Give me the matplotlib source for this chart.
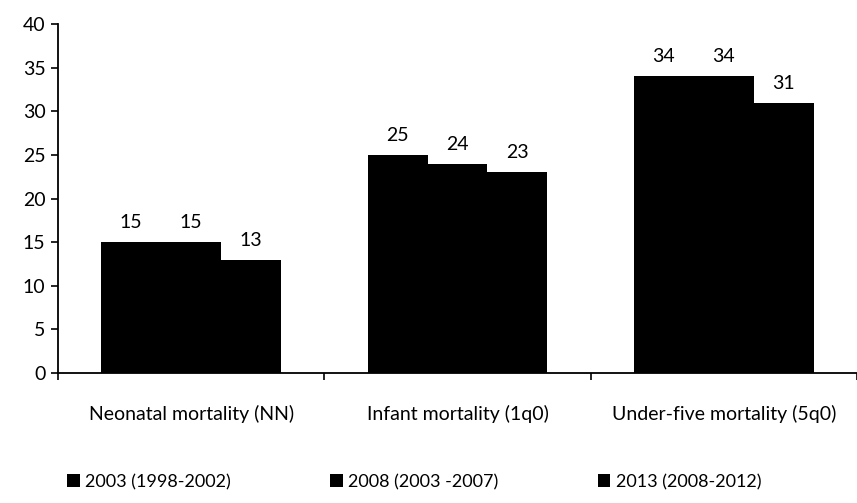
import matplotlib

matplotlib.use("Agg")

import matplotlib.pyplot as plt
import numpy as np

plt.rcParams['font.family'] = ['Lato', 'DejaVu Sans']

categories = ["Neonatal mortality (NN)", "Infant mortality (1q0)", "Under-five mortality (5q0)"]
series_names = ["2003 (1998-2002)", "2008 (2003 -2007)", "2013 (2008-2012)"]
v2003 = [15, 25, 34]
v2008 = [15, 24, 34]
v2013 = [13, 23, 31]
yticks = [0, 5, 10, 15, 20, 25, 30, 35, 40]

fig = plt.figure(figsize=(8.57, 5.03), dpi=100)
ax = fig.add_axes([0.0677, 0.2584, 0.9323, 0.6936])

x = np.arange(len(categories))
w = 0.225
for i, vals in enumerate([v2003, v2008, v2013]):
    bars = ax.bar(x + (i - 1) * w, vals, w, color="black", label=series_names[i])
    ax.bar_label(bars, padding=8, fontsize=14)

ax.set_xlim(-0.5, 2.5)
ax.set_ylim(0, 40)
ax.set_yticks(yticks)
ax.set_xticks(x)
ax.set_xticklabels(categories)
ax.set_xticks([-0.5, 0.5, 1.5, 2.5], minor=True)
ax.tick_params(axis="x", which="major", length=0, pad=23, labelsize=14)
ax.tick_params(axis="x", which="minor", length=5, direction="out", width=1.2)
ax.tick_params(axis="y", length=5, width=1.2, labelsize=14, pad=4)
for s in ["top", "right"]:
    ax.spines[s].set_visible(False)
for s in ["left", "bottom"]:
    ax.spines[s].set_linewidth(1.3)

fig.legend(loc="center", bbox_to_anchor=(414 / 857, 1 - 482 / 503), ncol=3,
           frameon=False, fontsize=13, handlelength=0.7, handleheight=0.7,
           handletextpad=0.3, columnspacing=5.5)

fig.savefig("out.png", dpi=100)
